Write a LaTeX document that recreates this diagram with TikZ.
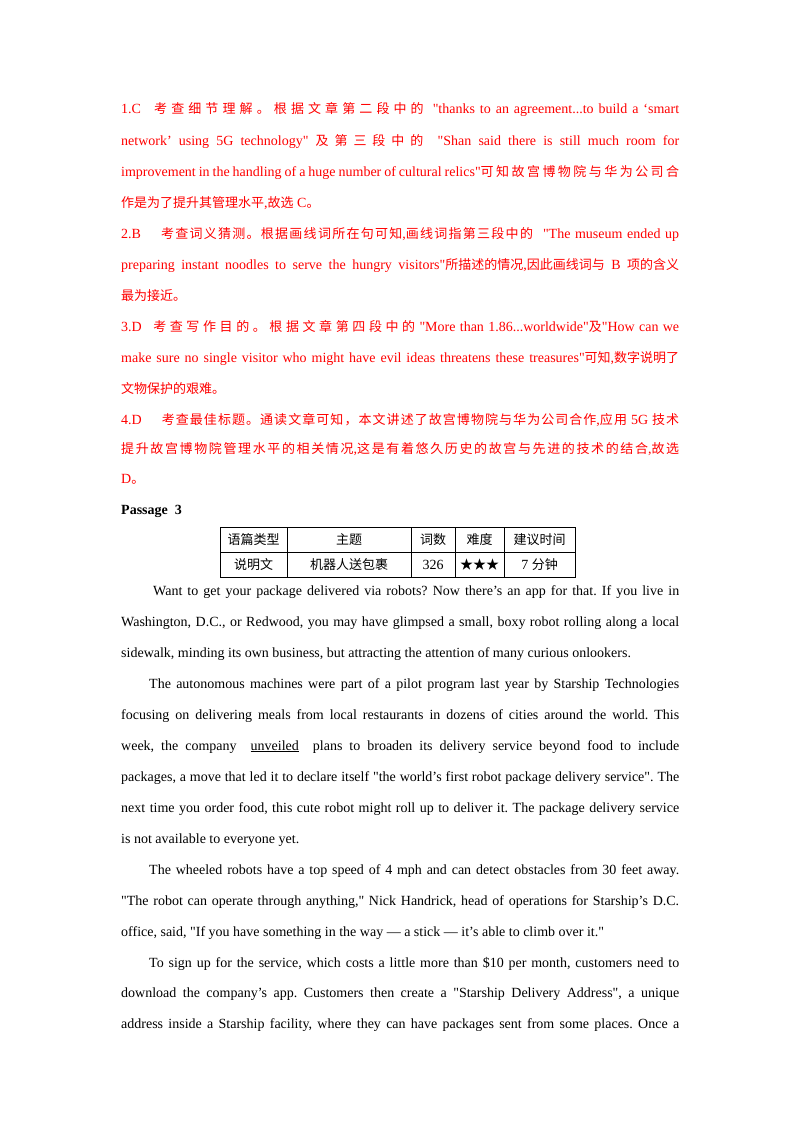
\documentclass[tikz,border=0pt]{standalone}
\usepackage{fontspec}
\setmainfont{Liberation Serif}[Ligatures=TeXOff]
\newfontfamily\zhf{Noto Sans CJK SC}
\newcommand\zh[1]{{\zhf\fontsize{13}{15}\selectfont #1}}
\newcommand\zs[1]{{\zhf\fontsize{13}{15}\selectfont\spaceskip=0pt plus 2pt\relax #1}}
\newcommand\dq{"}
\newcommand\JL[3]{\node[anchor=base west,inner sep=0pt] at (#2,-#1-5) {\makebox[\dimexpr 679pt-#2pt\relax][s]{#3}};}
\newcommand\RL[3]{\node[anchor=base west,inner sep=0pt] at (#2,-#1-5) {#3};}
\frenchspacing
\begin{document}
\begin{tikzpicture}[x=1pt,y=1pt,font=\fontsize{14}{16}\selectfont]
\useasboundingbox (0,0) rectangle (800,-1132);
\fill[white] (0,0) rectangle (800,-1132);
\begin{scope}[red]
\JL{108}{121}{1.C \zh{\ \ 考 查 细 节 理 解 。 根 据 文 章 第 二 段 中 的 } \dq thanks to an agreement...to build a ‘smart}
\JL{140}{121}{network’ using 5G technology\dq{} \zh{及 第 三 段 中 的} \ \dq Shan said there is still much room for}
\JL{171}{121}{improvement in the handling of a huge number of cultural relics\dq\zh{可 知 故 宫 博 物 院 与 华 为 公 司 合}}
\RL{202}{121}{\zh{作是为了提升其管理水平}{,}\zh{故选} C\zh{。}}
\JL{233}{121}{2.B\hspace{20pt}\zs{考 查 词 义 猜 测 。 根 据 画 线 词 所 在 句 可 知},\zs{画 线 词 指 第 三 段 中 的}\hspace{10pt}\dq The museum ended up}
\JL{264}{121}{preparing instant noodles to serve the hungry visitors\dq\zh{所描述的情况},\zh{因此画线词与} B \zh{项的含义}}
\RL{295}{121}{\zh{最为接近。}}
\JL{326}{121}{3.D \zh{\ \ 考 查 写 作 目 的 。 根 据 文 章 第 四 段 中 的} \dq More than 1.86...worldwide\dq\zh{及}\dq How can we}
\JL{357}{121}{make sure no single visitor who might have evil ideas threatens these treasures\dq\zh{可知},\zh{数字说明了}}
\RL{388}{121}{\zh{文物保护的艰难。}}
\JL{419}{121}{4.D\hspace{20pt}\zs{考 查 最 佳 标 题 。 通 读 文 章 可 知 ， 本 文 讲 述 了 故 宫 博 物 院 与 华 为 公 司 合 作},\zs{应 用}\hspace{4pt}5G\hspace{4pt}\zs{技 术}}
\JL{448}{121}{\zs{提 升 故 宫 博 物 院 管 理 水 平 的 相 关 情 况},\zs{这 是 有 着 悠 久 历 史 的 故 宫 与 先 进 的 技 术 的 结 合},\zs{故 选}}
\RL{478}{121}{D\zh{。}}
\end{scope}
\RL{509}{121}{\textbf{Passage\ \ 3}}
% table
\draw[line width=0.8pt] (220,-527) rectangle (575,-577);
\draw[line width=0.8pt] (220,-552) -- (575,-552);
\foreach \cx in {287,411,455,504}{\draw[line width=0.8pt] (\cx,-527) -- (\cx,-577);}
\node (h1) at (253.5,-540) {\zh{语篇类型}};
\node (h2) at (349,-540) {\zh{主题}};
\node (h3) at (433,-540) {\zh{词数}};
\node (h4) at (479.5,-540) {\zh{难度}};
\node (h5) at (539.5,-540) {\zh{建议时间}};
\node (c1) at (253.5,-564.5) {\zh{说明文}};
\node (c2) at (349,-564.5) {\zh{机器人送包裹}};
\node (c3) at (433,-564.5) {326};
\node (c4) at (479.5,-564.5) {\zh{★★★}};
\node (c5) at (539.5,-564.5) {7 \zh{分钟}};
% body
\JL{590}{153}{Want to get your package delivered via robots? Now there’s an app for that. If you live in}
\JL{621}{121}{Washington, D.C., or Redwood, you may have glimpsed a small, boxy robot rolling along a local}
\RL{652}{121}{sidewalk, minding its own business, but attracting the attention of many curious onlookers.}
\JL{683}{149}{The autonomous machines were part of a pilot program last year by Starship Technologies}
\JL{714}{121}{focusing on delivering meals from local restaurants in dozens of cities around the world. This}
\JL{745}{121}{week, the company \ \underline{unveiled} \ plans to broaden its delivery service beyond food to include}
\JL{776}{121}{packages, a move that led it to declare itself \dq the world’s first robot package delivery service\dq. The}
\JL{807}{121}{next time you order food, this cute robot might roll up to deliver it. The package delivery service}
\RL{838}{121}{is not available to everyone yet.}
\JL{869}{149}{The wheeled robots have a top speed of 4 mph and can detect obstacles from 30 feet away.}
\JL{900}{121}{\dq The robot can operate through anything,\dq{} Nick Handrick, head of operations for Starship’s D.C.}
\RL{931}{121}{office, said, \dq If you have something in the way — a stick — it’s able to climb over it.\dq}
\JL{962}{149}{To sign up for the service, which costs a little more than \$10 per month, customers need to}
\JL{992}{121}{download the company’s app. Customers then create a \dq Starship Delivery Address\dq, a unique}
\JL{1023}{121}{address inside a Starship facility, where they can have packages sent from some places. Once a}
\end{tikzpicture}
\end{document}
